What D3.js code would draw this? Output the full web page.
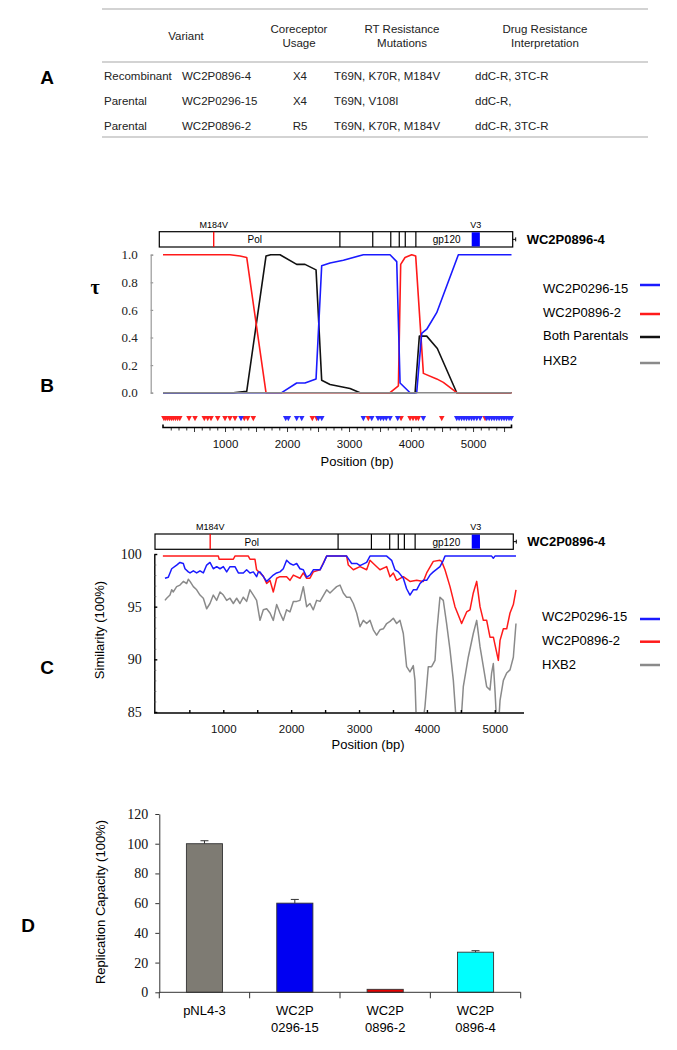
<!DOCTYPE html>
<html><head><meta charset="utf-8">
<script src="https://cdn.jsdelivr.net/npm/d3@7"></script>
<style>body{margin:0;background:#fff} svg{display:block}</style>
</head><body>
<svg id="fig" width="677" height="1050"></svg>
<script>
// ---------------- DATA ----------------
// Panel A table
const tableHeaders = [["Variant"], ["Coreceptor", "Usage"], ["RT Resistance", "Mutations"], ["Drug Resistance", "Interpretation"]];
const tableRows = [
  ["Recombinant", "WC2P0896-4", "X4", "T69N, K70R, M184V", "ddC-R, 3TC-R"],
  ["Parental", "WC2P0296-15", "X4", "T69N, V108I", "ddC-R,"],
  ["Parental", "WC2P0896-2", "R5", "T69N, K70R, M184V", "ddC-R, 3TC-R"]
];
// Genome bar (percent of bar length)
const recombinantName = "WC2P0896-4";
const geneDividers = [51.1, 60.4, 65.5, 67.9, 69.6, 72.6];
const mutationSite = {label: "M184V", at: 15.4};
const v3Region = {label: "V3", from: 88.4, to: 90.7};
const geneLabels = [{text: "Pol", at: 27}, {text: "gp120", at: 81.3}];

// Panel B: tau vs position (bp)
const tauBlue = [[0,0],[1914,0],[2156,0.07],[2290,0.07],[2468,0.10],[2559,0.92],[2694,0.94],[2909,0.96],[3231,1.0],[3661,1.0],[3769,0.95],[3823,0.07],[3984,0],[4091,0],[4172,0.43],[4253,0.46],[4414,0.58],[4763,1.0],[5620,1.0]];
const tauRed = [[0,1.0],[1080,1.0],[1242,0.99],[1350,0.98],[1661,0],[3661,0],[3796,0.05],[3833,0.93],[3903,0.98],[4011,1.0],[4075,0.99],[4199,0.14],[4414,0.10],[4521,0.075],[4737,0],[5620,0]];
const tauBoth = [[0,0],[1134,0],[1350,0.01],[1661,0.99],[1737,1.0],[1887,1.0],[2156,0.93],[2290,0.93],[2468,0.89],[2559,0.09],[2694,0.06],[3016,0.03],[3177,0],[4065,0],[4134,0.41],[4253,0.41],[4424,0.32],[4737,0],[5620,0]];
const tauHXB2 = [[0,0],[5620,0]];
const tauTicks = [0, 0.2, 0.4, 0.6, 0.8, 1.0];
const legendB = ["WC2P0296-15", "WC2P0896-2", "Both Parentals", "HXB2"];
const marksRed = [15,45,75,105,135,165,200,235,270,420,516,666,721,774,882,1000,1080,1161,1311,1366,1456,2408,2479,3311,3839,3984,4032,4080,4118,4495,5194];
const marksBlue = [1258,1979,2021,2156,2237,2505,2560,3231,3366,3468,3510,3555,3600,3661,3785,4198,4737,4775,4815,4855,4895,4935,4975,5015,5060,5113,5221,5260,5300,5340,5380,5420,5460,5500,5540,5580,5615];
const posTicks = [1000, 2000, 3000, 4000, 5000];

// Panel C: similarity (%)
const simBlue = [[141,97.7],[190,97.8],[240,98.6],[313,98.95],[362,99.2],[411,99.1],[436,98.6],[485,98.3],[510,98.2],[559,98.4],[608,98.2],[657,98.4],[706,98.2],[755,98.95],[804,99.2],[853,98.6],[903,98.8],[952,98.6],[1001,98.8],[1050,98.3],[1099,98.8],[1172,98.8],[1222,98.2],[1295,98.2],[1344,98.5],[1393,98.2],[1443,98.3],[1491,97.85],[1516,98.3],[1541,98.3],[1590,97.85],[1639,97.4],[1688,97.7],[1737,98.0],[1786,98.2],[1835,98.3],[1884,98.6],[1933,99.4],[1982,99.1],[2032,98.95],[2081,99.1],[2130,98.6],[2179,98.5],[2228,97.8],[2277,98.0],[2326,98.5],[2425,98.5],[2474,99.1],[2523,99.8],[2817,99.8],[2891,99.1],[2965,99.1],[3014,98.9],[3112,99.2],[3161,99.8],[3407,99.8],[3480,99.4],[3529,98.5],[3578,98.3],[3652,97.7],[3701,96.7],[3750,96.1],[3799,96.6],[3849,96.6],[3898,97.2],[3947,97.5],[3996,97.5],[4045,98.0],[4094,98.3],[4192,98.8],[4241,99.4],[4266,99.8],[4953,99.8],[4978,99.6],[5002,99.8],[5312,99.8]];
const simRed = [[110,99.8],[927,99.8],[940,99.5],[1148,99.5],[1172,99.8],[1369,99.8],[1393,99.5],[1467,99.5],[1491,98.5],[1590,97.9],[1639,97.2],[1688,97.5],[1737,96.4],[1786,97.7],[1835,97.85],[1933,97.85],[1982,97.5],[2032,98.0],[2130,97.7],[2179,98.2],[2228,97.7],[2277,97.7],[2326,98.3],[2425,98.5],[2523,99.8],[2817,99.8],[2842,98.95],[2916,98.5],[3014,98.8],[3112,98.5],[3161,99.4],[3210,99.1],[3308,98.5],[3407,98.8],[3456,97.85],[3505,98.2],[3554,97.5],[3652,97.85],[3750,97.4],[3849,97.5],[3947,97.4],[3996,98.2],[4094,99.3],[4192,99.4],[4217,99.3],[4266,98.5],[4340,96.9],[4413,95.0],[4462,94.2],[4511,93.4],[4585,94.5],[4634,94.7],[4683,96.3],[4733,97.4],[4782,95.0],[4831,93.7],[4880,93.7],[4929,92.1],[4979,92.1],[5052,89.9],[5077,91.8],[5126,92.9],[5175,92.9],[5224,94.4],[5273,95.2],[5312,96.6]];
const simHXB2 = [[141,95.6],[166,95.8],[215,96.1],[240,96.6],[264,96.4],[313,96.9],[362,97.05],[411,97.4],[461,97.2],[485,97.6],[510,97.4],[559,96.9],[608,96.6],[657,96.1],[706,95.8],[755,94.8],[804,95.3],[853,96.1],[903,95.6],[952,96.4],[1001,96.1],[1050,95.6],[1099,95.8],[1148,95.3],[1197,95.8],[1246,95.3],[1295,95.9],[1344,95.5],[1393,96.6],[1443,96.1],[1491,95.6],[1541,93.7],[1590,94.7],[1639,94.8],[1688,94.4],[1737,93.7],[1786,95.2],[1835,94.4],[1884,93.7],[1933,94.7],[1982,94.5],[2032,95.5],[2081,95.5],[2130,95.6],[2179,96.9],[2228,95.0],[2277,95.3],[2326,94.7],[2376,95.6],[2425,95.5],[2523,96.6],[2572,96.3],[2621,96.6],[2670,96.9],[2719,97.05],[2768,96.3],[2817,95.9],[2866,95.9],[2916,95.3],[2965,94.4],[3014,93.1],[3063,93.7],[3112,93.4],[3161,93.7],[3210,92.8],[3259,92.3],[3308,92.8],[3358,92.9],[3407,93.4],[3456,93.6],[3505,93.9],[3554,93.4],[3603,93.7],[3652,92.45],[3701,89.3],[3750,88.8],[3799,89.4],[3824,88.0],[3849,83.0],[3898,82.0],[3971,85.5],[4020,89.3],[4069,89.3],[4119,89.9],[4143,92.45],[4192,95.9],[4241,95.6],[4290,93.4],[4340,90.9],[4389,88.0],[4438,83.5],[4487,82.5],[4536,87.4],[4609,90.2],[4683,92.45],[4733,93.7],[4782,91.2],[4831,89.3],[4880,87.4],[4929,87.1],[4953,88.7],[4978,89.6],[5002,87.1],[5027,84.0],[5052,83.5],[5077,86.1],[5126,88.0],[5175,88.7],[5224,89.0],[5273,90.2],[5312,93.4]];
const simTicks = [85, 90, 95, 100];
const legendC = ["WC2P0296-15", "WC2P0896-2", "HXB2"];

// Panel D: replication capacity
const rcCategories = ["pNL4-3", "WC2P\n0296-15", "WC2P\n0896-2", "WC2P\n0896-4"];
const rcValues = [100, 60, 2, 27];
const rcErrors = [2, 2.5, 0, 1];
const rcTicks = [0, 20, 40, 60, 80, 100, 120];

// ---------------- DRAWING ----------------
const SANS = "'Liberation Sans', Arial, sans-serif";
const SERIF = "'Liberation Serif', 'Times New Roman', serif";
const BLUE = "#1a1aff", RED = "#ff1a1a", BLACK = "#111", GREY = "#8a8a8a";
const svg = d3.select("#fig").attr("font-family", SANS);

// Panel letters
svg.selectAll("text.plabel").data([["A",47,84],["B",47,392],["C",47,674],["D",28,932]])
  .join("text").attr("class","plabel").attr("x",d=>d[1]).attr("y",d=>d[2])
  .attr("text-anchor","middle").attr("font-weight","bold").attr("font-size",19).text(d=>d[0]);

// ---- Panel A: table ----
const gA = svg.append("g").attr("font-size", 11.5).attr("fill", "#222");
gA.selectAll("line").data([9, 62, 137]).join("line")
  .attr("x1", 102).attr("x2", 648).attr("y1", d=>d).attr("y2", d=>d)
  .attr("stroke", "#a8a8a8").attr("stroke-width", 1.2);
const headX = [186, 299, 402, 545];
tableHeaders.forEach((lines, i) => {
  lines.forEach((t, j) => {
    const y = lines.length === 1 ? 40 : 33 + j * 14;
    gA.append("text").attr("x", headX[i]).attr("y", y).attr("text-anchor", "middle").text(t);
  });
});
const colX = [104, 182, 300, 334, 475];
const colAnchor = ["start", "start", "middle", "start", "start"];
tableRows.forEach((row, r) => {
  row.forEach((t, c) => {
    gA.append("text").attr("x", colX[c]).attr("y", 80 + r * 25).attr("text-anchor", colAnchor[c]).text(t);
  });
});

// ---- Genome bar ----
function geneBar(x0, x1, yTop) {
  const h = 15.3;
  const s = d3.scaleLinear([0, 100], [x0, x1]);
  const g = svg.append("g");
  g.append("rect").attr("x", x0).attr("y", yTop).attr("width", x1 - x0).attr("height", h)
    .attr("fill", "#fff").attr("stroke", "#000").attr("stroke-width", 1.2);
  g.selectAll("line.div").data(geneDividers).join("line").attr("class","div")
    .attr("x1", d=>s(d)).attr("x2", d=>s(d)).attr("y1", yTop).attr("y2", yTop + h)
    .attr("stroke", "#000").attr("stroke-width", 1.2);
  g.append("rect").attr("x", s(v3Region.from)).attr("y", yTop + 0.6).attr("width", s(v3Region.to) - s(v3Region.from))
    .attr("height", h - 1.2).attr("fill", "#0000ff");
  g.append("line").attr("x1", s(mutationSite.at)).attr("x2", s(mutationSite.at)).attr("y1", yTop).attr("y2", yTop + h)
    .attr("stroke", "#ff0000").attr("stroke-width", 1.3);
  g.append("text").attr("x", s(mutationSite.at)).attr("y", yTop - 4).attr("text-anchor", "middle")
    .attr("font-size", 9).text(mutationSite.label);
  g.append("text").attr("x", s((v3Region.from + v3Region.to) / 2)).attr("y", yTop - 4).attr("text-anchor", "middle")
    .attr("font-size", 9).text(v3Region.label);
  g.selectAll("text.gl").data(geneLabels).join("text").attr("class","gl")
    .attr("x", d=>s(d.at)).attr("y", yTop + 11.5).attr("text-anchor", "middle").attr("font-size", 10).text(d=>d.text);
  g.append("path").attr("d", `M${x1},${yTop + h/2}h3M${x1+3},${yTop + h/2 - 2}v4`).attr("stroke", "#000").attr("stroke-width", 1);
  g.append("text").attr("x", x1 + 14).attr("y", yTop + h/2 + 4.5).attr("font-weight", "bold").attr("font-size", 13).text(recombinantName);
}
geneBar(159.3, 512.7, 231.7);
geneBar(155, 513.3, 534);

// ---- Panel B ----
const xB = d3.scaleLinear([0, 5620], [163, 511.5]);
const yB = d3.scaleLinear([0, 1], [392.7, 254.7]);
const gBy = svg.append("g").attr("transform", "translate(150.7,0)")
  .call(d3.axisLeft(yB).tickValues(tauTicks).tickFormat(d3.format(".1f")).tickSizeInner(-2.5).tickSizeOuter(-2.5).tickPadding(13));
gBy.selectAll("path,line").attr("stroke", "#999").attr("stroke-width", 1.2);
gBy.attr("font-family", SERIF).attr("font-size", 13).selectAll("text").attr("fill", "#222");
svg.append("text").attr("x", 95).attr("y", 294).attr("text-anchor", "middle").attr("font-family", SERIF)
  .attr("font-weight", "bold").attr("font-size", 20).text("τ");

const lineB = d3.line().x(d=>xB(d[0])).y(d=>yB(d[1]));
[[tauBoth, BLACK], [tauRed, RED], [tauBlue, BLUE], [tauHXB2, GREY]].forEach(([d, c]) => {
  svg.append("path").datum(d).attr("d", lineB).attr("fill", "none").attr("stroke", c)
    .attr("stroke-width", 1.6).attr("stroke-linejoin", "round");
});
// markers
const tri = "M-2.8,-2.4L2.8,-2.4L0,2.8Z";
svg.selectAll("path.mr").data(marksRed).join("path").attr("class","mr")
  .attr("d", tri).attr("transform", d=>`translate(${xB(d)},418.5)`).attr("fill", "#ff2020");
svg.selectAll("path.mb").data(marksBlue).join("path").attr("class","mb")
  .attr("d", tri).attr("transform", d=>`translate(${xB(d)},418.5)`).attr("fill", "#2a2aff");

const axBy = 427.5;
const gBx1 = svg.append("g").attr("transform", `translate(0,${axBy})`)
  .call(d3.axisBottom(xB).tickValues(d3.range(125, 5620, 125).filter(v => v % 500 !== 0)).tickSize(3).tickFormat(""));
gBx1.select(".domain").remove();
const gBx2 = svg.append("g").attr("transform", `translate(0,${axBy})`)
  .call(d3.axisBottom(xB).tickValues(d3.range(500, 5620, 500)).tickSize(4.5).tickPadding(8)
    .tickFormat(d => posTicks.includes(d) ? d : ""));
gBx2.select(".domain").remove();
[gBx1, gBx2].forEach(g => g.selectAll("line").attr("stroke", "#222").attr("stroke-width", 0.9));
gBx2.attr("font-family", SANS).attr("font-size", 11.5).selectAll("text").attr("fill", "#111");
svg.append("path").attr("d", `M${xB(0)},${axBy - 3}V${axBy}H${xB(5620)}V${axBy - 3}`)
  .attr("fill", "none").attr("stroke", "#000").attr("stroke-width", 1.6);
svg.append("text").attr("x", 357).attr("y", 466).attr("text-anchor", "middle").attr("font-size", 13).text("Position (bp)");

// legend B
const legBColors = [BLUE, RED, BLACK, GREY];
const legBy = [292.5, 316.5, 340, 364.5];
const legBline = [285, 314, 337, 363];
legendB.forEach((t, i) => {
  svg.append("text").attr("x", 543).attr("y", legBy[i]).attr("font-size", 13).text(t);
  svg.append("line").attr("x1", 640).attr("x2", 660).attr("y1", legBline[i]).attr("y2", legBline[i])
    .attr("stroke", legBColors[i]).attr("stroke-width", 2.5);
});

// ---- Panel C ----
const xC = d3.scaleLinear([0, 5430], [155.4, 524]);
const yC = d3.scaleLinear([85, 100], [712, 554]);
svg.append("defs").append("clipPath").attr("id", "clipC").append("rect")
  .attr("x", 154).attr("y", 540).attr("width", 372).attr("height", 172);
const lineC = d3.line().x(d=>xC(d[0])).y(d=>yC(d[1]));
const gCl = svg.append("g").attr("clip-path", "url(#clipC)");
[[simHXB2, GREY], [simRed, RED], [simBlue, BLUE]].forEach(([d, c]) => {
  gCl.append("path").datum(d).attr("d", lineC).attr("fill", "none").attr("stroke", c)
    .attr("stroke-width", 1.5).attr("stroke-linejoin", "round");
});
const gCy = svg.append("g").attr("transform", "translate(154.3,0)")
  .call(d3.axisLeft(yC).tickValues(simTicks).tickSizeInner(-3).tickSizeOuter(0).tickPadding(12.5));
gCy.attr("font-family", SERIF).attr("font-size", 14).selectAll("text").attr("fill", "#111");
gCy.selectAll("path,line").attr("stroke", "#000").attr("stroke-width", 1.4);
const gCy2 = svg.append("g").attr("transform", "translate(154.3,0)")
  .call(d3.axisLeft(yC).tickValues(d3.range(86, 100).filter(v => v % 5 !== 0)).tickSize(-2).tickFormat(""));
gCy2.select(".domain").remove();
gCy2.selectAll("line").attr("stroke", "#555").attr("stroke-width", 0.8);
const gCx = svg.append("g").attr("transform", "translate(0,713)")
  .call(d3.axisBottom(xC).tickValues(d3.range(500, 5430, 500)).tickSizeInner(-3).tickSizeOuter(0).tickPadding(11.5)
    .tickFormat(d => posTicks.includes(d) ? d : ""));
gCx.select(".domain").attr("d", `M154,0H${xC(5430)}`);
gCx.selectAll("path,line").attr("stroke", "#000").attr("stroke-width", 1.4);
gCx.attr("font-family", SANS).attr("font-size", 11.5).selectAll("text").attr("fill", "#111");
svg.append("text").attr("x", 368).attr("y", 748.5).attr("text-anchor", "middle").attr("font-size", 13).text("Position (bp)");
svg.append("text").attr("transform", "translate(103.5,630) rotate(-90)").attr("text-anchor", "middle")
  .attr("font-size", 13).text("Similarity (100%)");
const legCColors = [BLUE, RED, GREY];
const legCy = [620.5, 644.5, 668.5];
const legCline = [619, 641.7, 665];
legendC.forEach((t, i) => {
  svg.append("text").attr("x", 542).attr("y", legCy[i]).attr("font-size", 13).text(t);
  svg.append("line").attr("x1", 640).attr("x2", 660).attr("y1", legCline[i]).attr("y2", legCline[i])
    .attr("stroke", legCColors[i]).attr("stroke-width", 2.5);
});

// ---- Panel D ----
const xD = d3.scaleBand(rcCategories, [159.3, 520.7]).paddingInner(0.6).paddingOuter(0.3);
const yD = d3.scaleLinear([0, 120], [992.3, 814]);
const barColors = ["#7e7b73", "#0000f2", "#e60000", "#00ffff"];
svg.selectAll("rect.bar").data(rcCategories).join("rect").attr("class","bar")
  .attr("x", d=>xD(d)).attr("width", xD.bandwidth())
  .attr("y", (d,i)=>yD(rcValues[i])).attr("height", (d,i)=>yD(0)-yD(rcValues[i]))
  .attr("fill", (d,i)=>barColors[i]).attr("stroke", "#333").attr("stroke-width", 0.9);
rcCategories.forEach((c, i) => {
  if (!rcErrors[i]) return;
  const cx = xD(c) + xD.bandwidth() / 2;
  svg.append("path").attr("d", `M${cx},${yD(rcValues[i])}V${yD(rcValues[i] + rcErrors[i])}M${cx - 4},${yD(rcValues[i] + rcErrors[i])}H${cx + 4}`)
    .attr("stroke", "#333").attr("stroke-width", 1).attr("fill", "none");
});
const gDy = svg.append("g").attr("transform", "translate(159.3,0)")
  .call(d3.axisLeft(yD).tickValues(rcTicks).tickSize(4).tickPadding(7).tickSizeOuter(0));
gDy.attr("font-family", SERIF).attr("font-size", 14).selectAll("text").attr("fill", "#111");
gDy.selectAll("path,line").attr("stroke", "#333").attr("stroke-width", 1);
const bounds = d3.range(rcCategories.length + 1).map(i => xD.range()[0] + i * xD.step());
svg.append("line").attr("x1", bounds[0]).attr("x2", bounds[bounds.length - 1]).attr("y1", yD(0)).attr("y2", yD(0))
  .attr("stroke", "#333").attr("stroke-width", 1);
svg.selectAll("line.bt").data(bounds).join("line").attr("class","bt")
  .attr("x1", d=>d).attr("x2", d=>d).attr("y1", yD(0)).attr("y2", yD(0) + 6).attr("stroke", "#333").attr("stroke-width", 1);
rcCategories.forEach(c => {
  const lines = c.split("\n");
  const t = svg.append("text").attr("x", xD(c) + xD.bandwidth() / 2).attr("y", 1014.5).attr("text-anchor", "middle").attr("font-size", 13);
  lines.forEach((l, j) => t.append("tspan").attr("x", xD(c) + xD.bandwidth() / 2).attr("dy", j ? 17.5 : 0).text(l));
});
svg.append("text").attr("transform", "translate(104.5,902) rotate(-90)").attr("text-anchor", "middle")
  .attr("font-size", 13).text("Replication Capacity (100%)");
</script>
</body></html>
